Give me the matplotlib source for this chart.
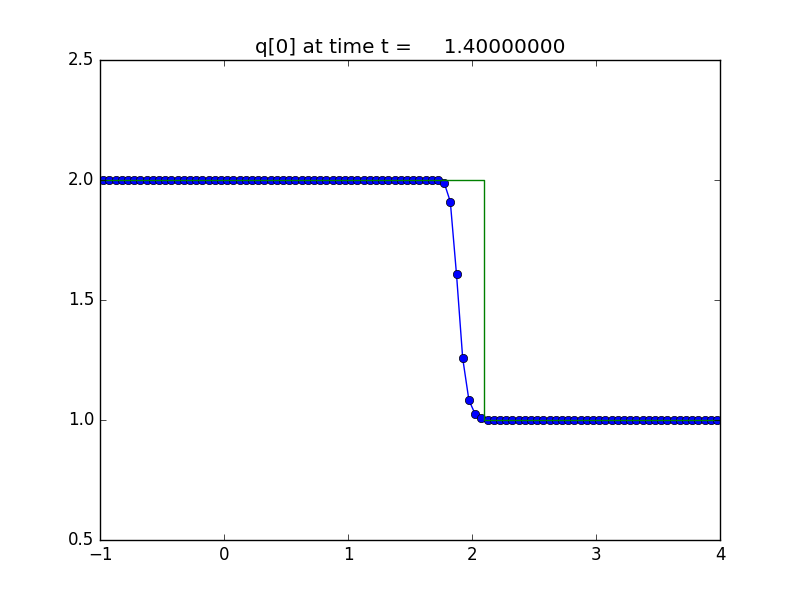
import numpy as np
import matplotlib
matplotlib.use("Agg")
import matplotlib.pyplot as plt

# cell centres on [-1, 4], 100 cells
x_cells = np.linspace(-0.975, 3.975, 100)

# computed q[0] at t = 1.4
q_computed = [
    2.0, 2.0, 2.0, 2.0, 2.0, 2.0, 2.0, 2.0, 2.0, 2.0,
    2.0, 2.0, 2.0, 2.0, 2.0, 2.0, 2.0, 2.0, 2.0, 2.0,
    2.0, 2.0, 2.0, 2.0, 2.0, 2.0, 2.0, 2.0, 2.0, 2.0,
    2.0, 2.0, 2.0, 2.0, 2.0, 2.0, 2.0, 2.0, 2.0, 2.0,
    2.0, 2.0, 2.0, 2.0, 2.0, 2.0, 2.0, 2.0, 2.0, 2.0,
    2.0, 2.0, 2.0, 2.0, 2.0, 1.989, 1.910, 1.607, 1.257, 1.083,
    1.025, 1.010, 1.0, 1.0, 1.0, 1.0, 1.0, 1.0, 1.0, 1.0,
    1.0, 1.0, 1.0, 1.0, 1.0, 1.0, 1.0, 1.0, 1.0, 1.0,
    1.0, 1.0, 1.0, 1.0, 1.0, 1.0, 1.0, 1.0, 1.0, 1.0,
    1.0, 1.0, 1.0, 1.0, 1.0, 1.0, 1.0, 1.0, 1.0, 1.0,
]

# exact solution: step located at x = 2.1
x_exact = [-1.0, 2.1, 2.1, 4.0]
q_exact = [2.0, 2.0, 1.0, 1.0]

t = 1.4

plt.style.use('classic')
fig = plt.figure(figsize=(8, 6), dpi=100)
ax = fig.add_subplot(111)

ax.plot(x_cells, q_computed, 'bo-', markersize=6,
        markeredgecolor='k', markeredgewidth=0.5, linewidth=1)
ax.plot(x_exact, q_exact, 'g-', linewidth=1)

ax.set_xlim(-1, 4)
ax.set_ylim(0.5, 2.5)
ax.set_xticks([-1, 0, 1, 2, 3, 4])
ax.set_yticks([0.5, 1.0, 1.5, 2.0, 2.5])
ax.set_title('q[0] at time t = %14.8f' % t)

fig.savefig('out.png', dpi=100, facecolor='white')
